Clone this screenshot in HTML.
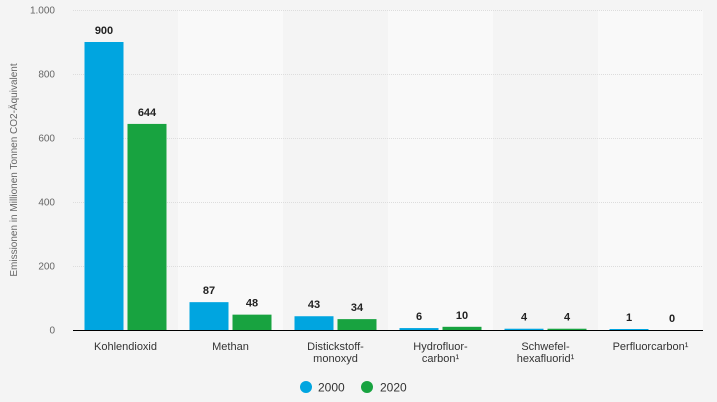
<!DOCTYPE html>
<html><head><meta charset="utf-8"><style>
body{margin:0;background:#f4f4f4;font-family:"Liberation Sans",sans-serif;}
svg{display:block}
</style></head><body>
<svg width="717" height="402">
<g id="bands"></g>
<g id="grid"></g>
<g id="bars"></g>
<line x1="73" x2="703" y1="330.5" y2="330.5" stroke="#000" stroke-width="1"/>
<g id="labels"></g>
<text transform="translate(17,170) rotate(-90)" text-anchor="middle" font-size="10" fill="#666">Emissionen in Millionen Tonnen CO2-Äquivalent</text>
<g>
<g><circle cx="306" cy="387" r="6" fill="#00a5e0"/><text x="318" y="391.5" font-size="12" fill="#333">2000</text></g>
<g><circle cx="367" cy="387" r="6" fill="#18a340"/><text x="380" y="391.5" font-size="12" fill="#333">2020</text></g>
</g>
</svg>
<script>
const categories=[["Kohlendioxid"],["Methan"],["Distickstoff-","monoxyd"],["Hydrofluor-","carbon¹"],["Schwefel-","hexafluorid¹"],["Perfluorcarbon¹"]];
const values2000=[900,87,43,6,4,1];
const values2020=[644,48,34,10,4,0];
const yTicks=[0,200,400,600,800,1000];
const yTickLabels=["0","200","400","600","800","1.000"];
const NS="http://www.w3.org/2000/svg";
const x0=73,x1=703,yZero=330,yTop=10,yMax=1000;
const bw=(x1-x0)/categories.length;
function y(v){return yZero-(v/yMax)*(yZero-yTop);}
function cx(i){return x0+bw*i+bw/2;}
function mk(tag,attrs,parent){const e=document.createElementNS(NS,tag);for(const k in attrs)e.setAttribute(k,attrs[k]);document.getElementById(parent).appendChild(e);return e;}
categories.forEach((c,i)=>{
  const r=mk('rect',{x:x0+bw*i,y:yTop,width:bw,height:yZero-yTop,fill:i%2?'#f9f9f9':'#f4f4f4'},'bands');
  
  
});
yTicks.forEach((t,i)=>{
  if(t>0){const l=mk('line',{x1:x0,x2:x1,y1:y(t)+0.5,y2:y(t)+0.5,stroke:'#ddd','stroke-dasharray':'1,1'},'grid');
  
  }
  const tx=mk('text',{x:55,y:y(t)+3.5,'text-anchor':'end','font-size':'10',fill:'#666'},'grid');
  
  
  tx.textContent=yTickLabels[i];
});
const bwid=39;
function bar(v,x,col,name){
  const h=Math.max(yZero-y(v),v>0?1:0);
  const r=mk('rect',{x:x,y:yZero-h,width:bwid,height:h,fill:col},'bars');
  
  
  const t=mk('text',{x:x+bwid/2,y:Math.min(y(v),yZero-h)-8,'text-anchor':'middle','font-size':'11','font-weight':'bold',fill:'#222'},'labels');
  
  
  t.textContent=v;
}
categories.forEach((c,i)=>{
  bar(values2000[i],cx(i)-41,'#00a5e0','bar-2000');
  bar(values2020[i],cx(i)+2,'#18a340','bar-2020');
  const t=mk('text',{x:cx(i),y:350,'text-anchor':'middle','font-size':'11',fill:'#333'},'labels');
  
  
  c.forEach((line,j)=>{const s=document.createElementNS(NS,'tspan');s.setAttribute('x',cx(i));s.setAttribute('dy',j?12:0);s.textContent=line;t.appendChild(s);});
});
</script>
</body></html>
